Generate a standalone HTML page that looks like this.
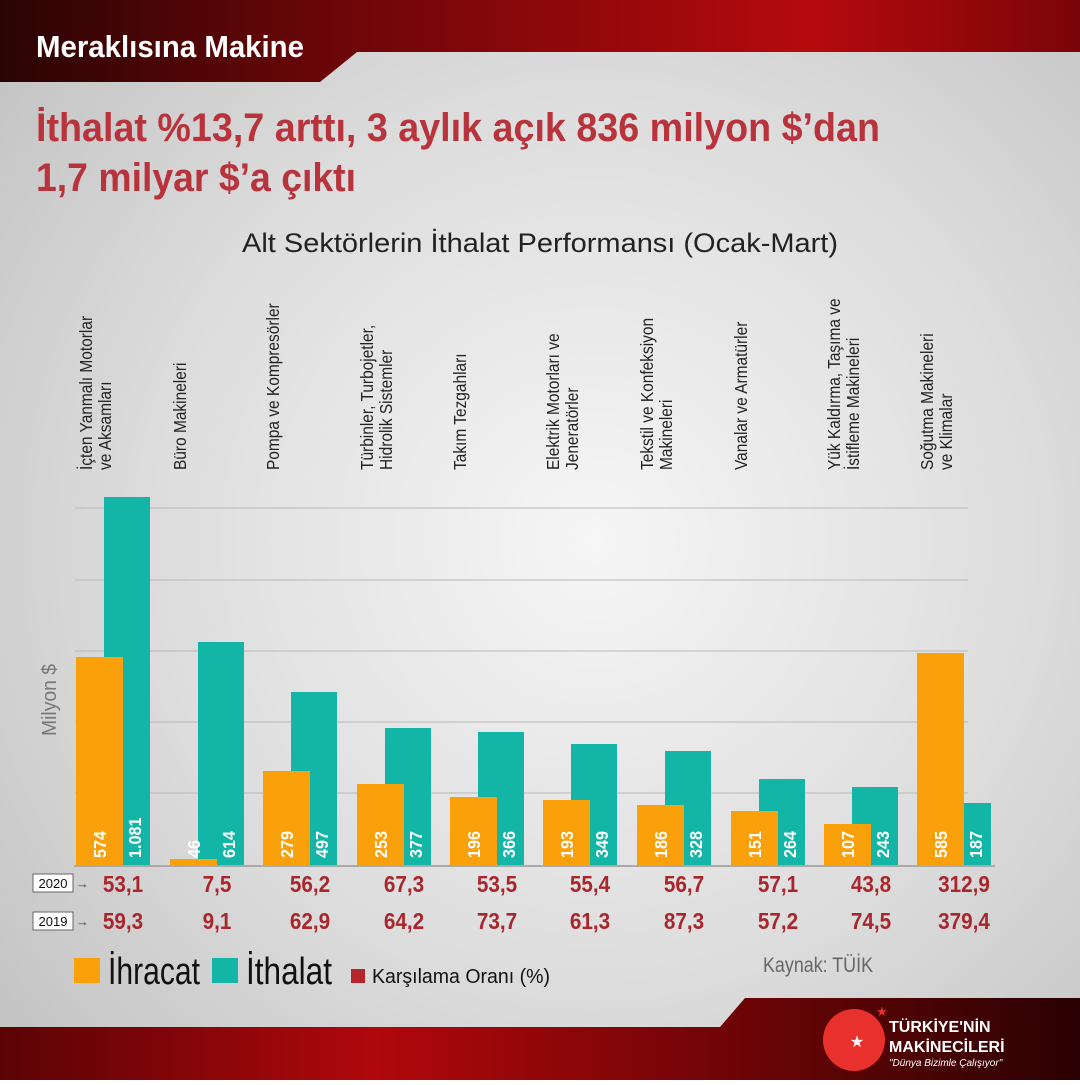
<!DOCTYPE html>
<html><head><meta charset="utf-8"><style>
body{margin:0;width:1080px;height:1080px;overflow:hidden;font-family:"Liberation Sans",sans-serif}
</style></head><body>
<svg width="1080" height="1080" viewBox="0 0 1080 1080" xmlns="http://www.w3.org/2000/svg" font-family="Liberation Sans, sans-serif">
<defs>
<radialGradient id="bg" cx="0.55" cy="0.5" r="0.7"><stop offset="0" stop-color="#f6f6f6"/><stop offset="0.6" stop-color="#dcdcdc"/><stop offset="1" stop-color="#c4c4c4"/></radialGradient>
<linearGradient id="top" x1="0" x2="1"><stop offset="0" stop-color="#2a0404"/><stop offset="0.3" stop-color="#6a0608"/><stop offset="0.75" stop-color="#b50a0e"/><stop offset="1" stop-color="#7a0508"/></linearGradient>
<linearGradient id="bot" x1="0" x2="1"><stop offset="0" stop-color="#5a0305"/><stop offset="0.35" stop-color="#b0080c"/><stop offset="0.7" stop-color="#6a0406"/><stop offset="1" stop-color="#2a0203"/></linearGradient>
</defs>
<rect width="1080" height="1080" fill="url(#bg)"/>
<polygon points="0,0 1080,0 1080,52 357,52 320,82 0,82" fill="url(#top)"/>
<text x="36" y="57" font-size="31" fill="#fff" font-weight="bold" textLength="268" lengthAdjust="spacingAndGlyphs">Meraklısına Makine</text>
<g font-weight="bold" fill="#b8333c" font-size="40">
<text x="36" y="141" textLength="844" lengthAdjust="spacingAndGlyphs">İthalat %13,7 arttı, 3 aylık açık 836 milyon $’dan</text>
<text x="36" y="191" textLength="320" lengthAdjust="spacingAndGlyphs">1,7 milyar $’a çıktı</text>
</g>
<text x="540" y="252" font-size="27" text-anchor="middle" fill="#222" textLength="596" lengthAdjust="spacingAndGlyphs">Alt Sektörlerin İthalat Performansı (Ocak-Mart)</text>
<text transform="translate(56,700) rotate(-90)" font-size="20" fill="#777" text-anchor="middle" textLength="72" lengthAdjust="spacingAndGlyphs">Milyon $</text>
<g stroke="#b8b8b8" stroke-width="1">
<line x1="75" x2="968" y1="508" y2="508"/><line x1="75" x2="968" y1="580" y2="580"/><line x1="75" x2="968" y1="651" y2="651"/><line x1="75" x2="968" y1="722" y2="722"/><line x1="75" x2="968" y1="793" y2="793"/>
</g>
<g id="bars"></g>
<line x1="74" x2="995" y1="866" y2="866" stroke="#aaa" stroke-width="2"/>
<g font-size="18" fill="#222" id="labels"></g>
<rect x="33" y="874" width="40" height="18" fill="#fff" stroke="#666"/><text x="53" y="888" font-size="13" text-anchor="middle" fill="#111">2020</text>
<text x="76" y="888" font-size="13" fill="#444">→</text>
<rect x="33" y="912" width="40" height="18" fill="#fff" stroke="#666"/><text x="53" y="926" font-size="13" text-anchor="middle" fill="#111">2019</text>
<text x="76" y="926" font-size="13" fill="#444">→</text>
<g id="ratios" font-weight="bold" fill="#a8262c" font-size="23" text-anchor="middle"></g>
<rect x="74" y="958" width="26" height="25" fill="#f9a00a"/>
<text x="108" y="984" font-size="38" fill="#111" textLength="92" lengthAdjust="spacingAndGlyphs">İhracat</text>
<rect x="212" y="958" width="26" height="25" fill="#13b5a6"/>
<text x="246" y="984" font-size="38" fill="#111" textLength="86" lengthAdjust="spacingAndGlyphs">İthalat</text>
<rect x="351" y="969" width="14" height="14" fill="#b5262c"/>
<text x="372" y="983" font-size="20" fill="#111" textLength="178" lengthAdjust="spacingAndGlyphs">Karşılama Oranı (%)</text>
<text x="763" y="972" font-size="21" fill="#666" textLength="110" lengthAdjust="spacingAndGlyphs">Kaynak: TÜİK</text>
<polygon points="0,1027 720,1027 745,998 1080,998 1080,1080 0,1080" fill="url(#bot)"/>
<circle cx="854" cy="1040" r="31" fill="#e8302c"/>
<text x="857" y="1047" font-size="16" fill="#fff" text-anchor="middle">★</text>
<text x="876" y="1016" font-size="13" fill="#e8302c">★</text>
<text x="889" y="1032" font-size="16" font-weight="bold" fill="#fff">TÜRKİYE'NİN</text>
<text x="889" y="1052" font-size="16" font-weight="bold" fill="#fff">MAKİNECİLERİ</text>
<text x="889" y="1066" font-size="10" font-style="italic" fill="#fff">"Dünya Bizimle Çalışıyor"</text>
</svg>
<script>
var xs=[76,170,263,357,450,543,637,731,824,917];
var ot=[657,859,771,784,797,800,805,811,824,653];
var tt=[497,642,692,728,732,744,751,779,787,803];
var ov=["574","46","279","253","196","193","186","151","107","585"];
var tv=["1.081","614","497","377","366","349","328","264","243","187"];
var r20=["53,1","7,5","56,2","67,3","53,5","55,4","56,7","57,1","43,8","312,9"];
var r19=["59,3","9,1","62,9","64,2","73,7","61,3","87,3","57,2","74,5","379,4"];
var labs=[["İçten Yanmalı Motorlar","ve Aksamları"],["Büro Makineleri"],["Pompa ve Kompresörler"],["Türbinler, Turbojetler,","Hidrolik Sistemler"],["Takım Tezgahları"],["Elektrik Motorları ve","Jeneratörler"],["Tekstil ve Konfeksiyon","Makineleri"],["Vanalar ve Armatürler"],["Yük Kaldırma, Taşıma ve","İstifleme Makineleri"],["Soğutma Makineleri","ve Klimalar"]];
var NS="http://www.w3.org/2000/svg";
function el(p,t,a,txt){var e=document.createElementNS(NS,t);for(var k in a)e.setAttribute(k,a[k]);if(txt)e.textContent=txt;p.appendChild(e);return e;}
var b=document.getElementById('bars'),L=document.getElementById('labels'),R=document.getElementById('ratios');
for(var i=0;i<10;i++){var x=xs[i];
el(b,'rect',{x:x+28,y:tt[i],width:46,height:866-tt[i],fill:'#13b5a6'});
el(b,'rect',{x:x,y:ot[i],width:47,height:866-ot[i],fill:'#f9a00a'});
el(b,'text',{transform:'translate('+(x+30)+',858) rotate(-90) scale(0.9,1)','font-size':18,'font-weight':'bold',fill:'#fff'},ov[i]);
el(b,'text',{transform:'translate('+(x+65)+',858) rotate(-90) scale(0.9,1)','font-size':18,'font-weight':'bold',fill:'#fff'},tv[i]);
for(var j=0;j<labs[i].length;j++)el(L,'text',{transform:'translate('+(x+16+j*19)+',470) rotate(-90) scale(0.86,1)'},labs[i][j]);
el(R,'text',{x:x+47,y:892,transform:'translate('+(x+47)*0.1+',0) scale(0.9,1)'},r20[i]);
el(R,'text',{x:x+47,y:929,transform:'translate('+(x+47)*0.1+',0) scale(0.9,1)'},r19[i]);
}
</script>
</body></html>
